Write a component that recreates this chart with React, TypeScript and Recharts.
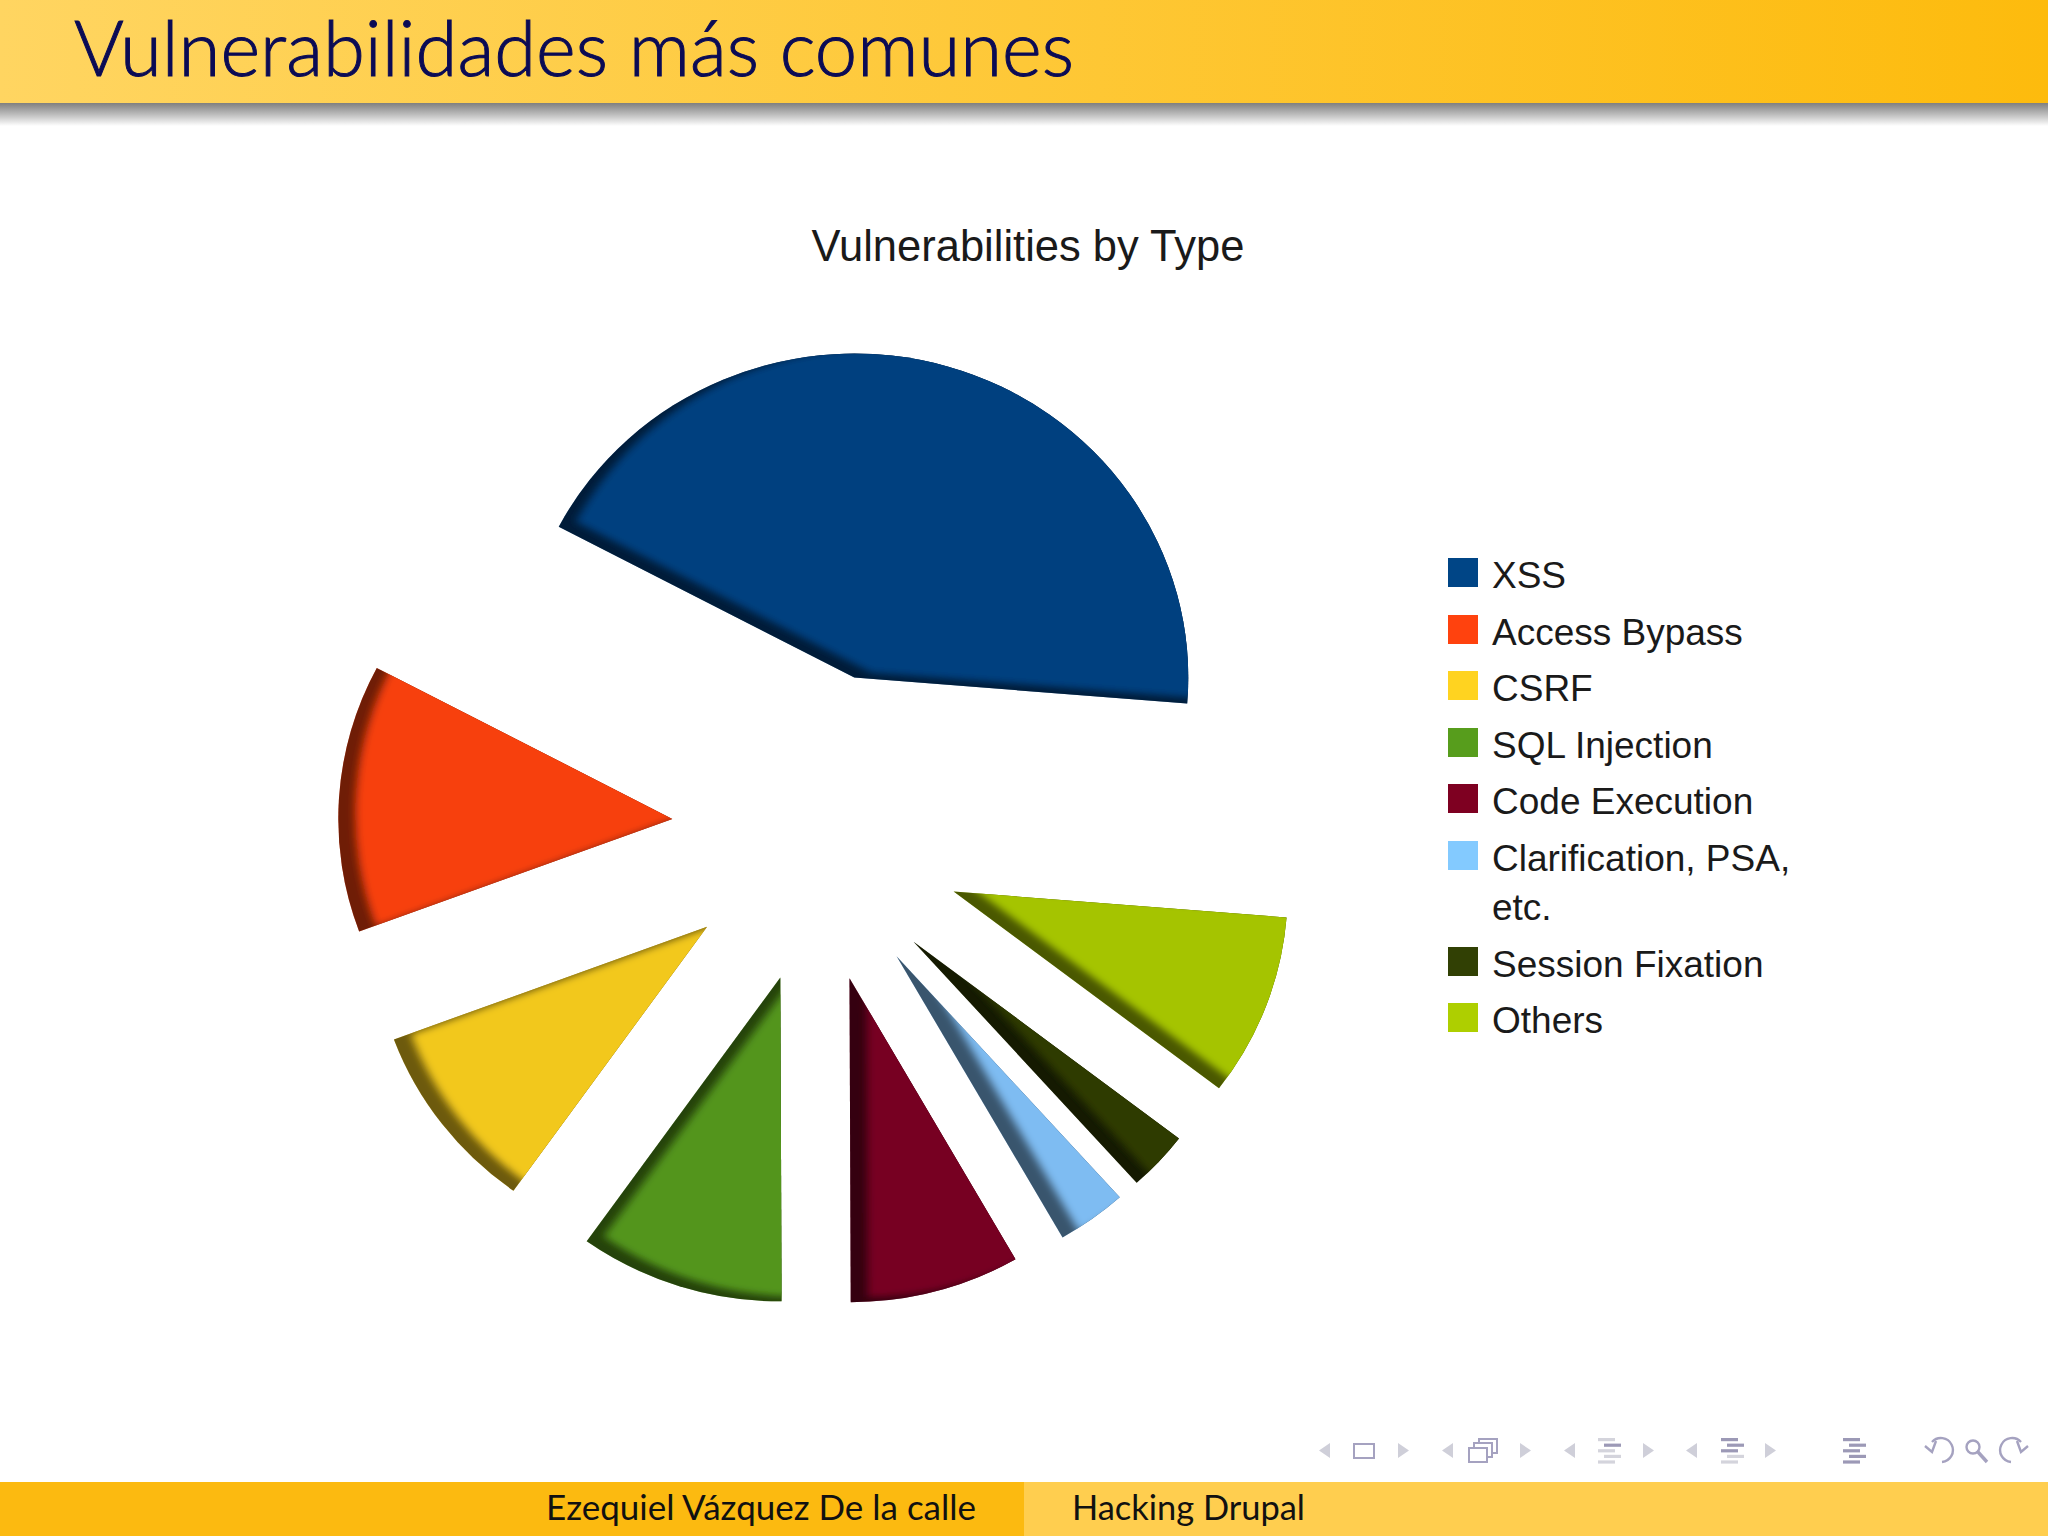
import React from "react";
import { PieChart, Pie, Cell, Legend, Sector } from "recharts";

//========== Chart Data ==========
const categories = [
  "XSS",
  "Access Bypass",
  "CSRF",
  "SQL Injection",
  "Code Execution",
  "Clarification, PSA, etc.",
  "Session Fixation",
  "Others",
];
const shares = [44, 13.5, 9.6, 10, 8.3, 3.4, 3, 9.2];
const sliceColors = ["#003F7F", "#F7400E", "#F2C81E", "#53951A", "#770024", "#7EBCF2", "#2F3A04", "#A5C400"];
const legendColors = ["#004586", "#FF420E", "#FFD320", "#579D1C", "#7E0021", "#83CAFF", "#314004", "#AECF00"];

const data = categories.map((name, i) => ({ name, value: shares[i] }));

const SANS = "'Liberation Sans', Arial, sans-serif";
const SLIDE_FONT = "Lato, 'Noto Sans', sans-serif";
const EXPLODE = 141;
const SQUASH = 0.97;
// the source image does not explode its slices evenly, so each one gets a small correction
const sliceNudges: Record<string, [number, number]> = {
  XSS: [3, -25],
  "Access Bypass": [1, -10],
  CSRF: [7, 3],
  "SQL Injection": [11, 5],
  "Code Execution": [1, 4],
  "Clarification, PSA, etc.": [2, 4],
  "Session Fixation": [-2, 8],
  Others: [10, 3],
};

//========== Exploded slice with a dark bevel on its left edges ==========
const ExplodedSlice = (props: any) => {
  const { cx, cy, innerRadius, outerRadius, startAngle, endAngle, midAngle, fill, name } = props;
  const rad = (midAngle * Math.PI) / 180;
  const [nx, ny] = sliceNudges[name] ?? [0, 0];
  const ox = EXPLODE * Math.cos(rad) + nx;
  const oy = -EXPLODE * Math.sin(rad) + ny;
  const clipId = `slice-clip-${Math.round(midAngle)}`;
  const base = { cx, cy, innerRadius, outerRadius, startAngle, endAngle };
  return (
    <g transform={`translate(${cx + ox} ${cy + oy}) scale(1 ${SQUASH}) translate(${-cx} ${-cy})`}>
      <clipPath id={clipId}>
        <Sector {...base} />
      </clipPath>
      <Sector {...base} fill={fill} stroke="none" />
      <Sector {...base} fill="#000" fillOpacity={0.55} stroke="none" />
      <g clipPath={`url(#${clipId})`}>
        <g transform="translate(17 -5)" filter="url(#sliceBlur)">
          <Sector {...base} fill={fill} stroke="none" />
        </g>
      </g>
    </g>
  );
};

//========== Legend ==========
const ChartLegend = () => (
  <div style={{ fontFamily: SANS, fontSize: 37, lineHeight: "49.5px", color: "#1a1a1a" }}>
    {categories.map((name, i) => (
      <div key={name} style={{ display: "flex", alignItems: "flex-start", marginBottom: 7 }}>
        <div style={{ width: 30, height: 29, marginTop: 9, marginRight: 14, background: legendColors[i], flex: "none" }} />
        <div style={{ width: 310, position: "relative", top: 2 }}>{name}</div>
      </div>
    ))}
  </div>
);

//========== Beamer navigation symbols ==========
const NAV_LIGHT = "#CFCFD9";
const NAV_DARK = "#A5A2C0";

const NavArrow = ({ x, left }: { x: number; left: boolean }) => (
  <path d={left ? `M${x + 11} 1443 L${x} 1450.5 L${x + 11} 1458 Z` : `M${x} 1443 L${x + 11} 1450.5 L${x} 1458 Z`} fill={NAV_LIGHT} />
);

const NavLines = ({ x, dark }: { x: number; dark: number[] }) => (
  <g>
    {[0, 1, 2, 3, 4].map((r) => (
      <rect
        key={r}
        x={x + (r % 2 === 0 ? 0 : 6)}
        y={1438 + r * 5.6}
        width={17}
        height={3.2}
        fill={dark.includes(r) ? "#9C99B6" : "#D4D4DC"}
      />
    ))}
  </g>
);

const SlideChrome = () => (
  <svg width={2048} height={1536} style={{ position: "absolute", left: 0, top: 0 }}>
    <defs>
      <filter id="sliceBlur" x="-10%" y="-10%" width="120%" height="120%">
        <feGaussianBlur stdDeviation="4" />
      </filter>
      <linearGradient id="headBand" x1="0" x2="1" y1="0" y2="0">
        <stop offset="0" stopColor="#FFD561" />
        <stop offset="1" stopColor="#FDBB0D" />
      </linearGradient>
      <linearGradient id="headShadow" x1="0" x2="0" y1="0" y2="1">
        <stop offset="0" stopColor="#7F7F7F" />
        <stop offset="0.5" stopColor="#BDBDBD" />
        <stop offset="1" stopColor="#FFFFFF" />
      </linearGradient>
    </defs>
    <rect x={0} y={0} width={2048} height={1536} fill="#FFFFFF" />
    <rect x={0} y={0} width={2048} height={103} fill="url(#headBand)" />
    <rect x={0} y={103} width={2048} height={23} fill="url(#headShadow)" />
    <text
      x={74}
      y={76}
      fontFamily={SLIDE_FONT}
      fontWeight={300}
      fontSize={77}
      fill="#0B0B55"
      stroke="#0B0B55"
      strokeWidth={1}
      textLength={1000}
      lengthAdjust="spacingAndGlyphs"
    >
      Vulnerabilidades más comunes
    </text>
    <text x={1028} y={261} textAnchor="middle" fontFamily={SANS} fontSize={43.5} fill="#1a1a1a">
      Vulnerabilities by Type
    </text>

    <rect x={0} y={1482} width={1024} height={54} fill="#FCBA10" />
    <rect x={1024} y={1482} width={1024} height={54} fill="#FFCE4F" />
    <text x={546} y={1520} fontFamily={SLIDE_FONT} fontSize={34} fill="#111111" textLength={430} lengthAdjust="spacingAndGlyphs">
      Ezequiel Vázquez De la calle
    </text>
    <text x={1072} y={1520} fontFamily={SLIDE_FONT} fontSize={34} fill="#111111" textLength={233} lengthAdjust="spacingAndGlyphs">
      Hacking Drupal
    </text>

    <NavArrow x={1319} left />
    <rect x={1354} y={1444} width={20} height={14} fill="none" stroke={NAV_DARK} strokeWidth={2} />
    <NavArrow x={1398} left={false} />
    <NavArrow x={1442} left />
    <rect x={1479} y={1439} width={18} height={14} fill="#fff" stroke={NAV_DARK} strokeWidth={2} />
    <rect x={1474} y={1443} width={18} height={14} fill="#fff" stroke={NAV_DARK} strokeWidth={2} />
    <rect x={1469} y={1448} width={18} height={14} fill="#fff" stroke={NAV_DARK} strokeWidth={2} />
    <NavArrow x={1520} left={false} />
    <NavArrow x={1564} left />
    <NavLines x={1598} dark={[1]} />
    <NavArrow x={1643} left={false} />
    <NavArrow x={1686} left />
    <NavLines x={1721} dark={[0, 1, 2]} />
    <NavArrow x={1765} left={false} />
    <NavLines x={1843} dark={[0, 1, 2, 3, 4]} />
    <g fill="none" stroke={NAV_DARK} strokeWidth={2.4}>
      <path d="M1932 1442 A12 12 0 1 1 1942 1462" />
      <path d="M1925 1446 L1932 1452 L1936 1441" />
      <circle cx={1973} cy={1447} r={6.5} />
      <path d="M1978 1452 L1987 1462" strokeWidth={3.4} />
      <path d="M2021 1442 A12 12 0 1 0 2011 1462" />
      <path d="M2028 1446 L2021 1452 L2017 1441" />
    </g>
  </svg>
);

//========== Slide ==========
const App: React.FC = () => (
  <div style={{ position: "absolute", left: 0, top: 0, width: 2048, height: 1536, overflow: "hidden" }}>
    <SlideChrome />
    <div style={{ position: "absolute", left: 0, top: 0 }}>
      <PieChart width={2048} height={1536} margin={{ top: 0, right: 0, bottom: 0, left: 0 }}>
        <Pie
          data={data}
          dataKey="value"
          nameKey="name"
          cx={812}
          cy={838}
          innerRadius={0}
          outerRadius={334}
          startAngle={-4.6}
          endAngle={355.4}
          stroke="none"
          shape={ExplodedSlice}
          isAnimationActive={false}
        >
          {categories.map((name, i) => (
            <Cell key={name} fill={sliceColors[i]} />
          ))}
        </Pie>
        <Legend content={<ChartLegend />} wrapperStyle={{ left: 1448, top: 549, width: 400, bottom: "auto" }} />
      </PieChart>
    </div>
  </div>
);

export default App;
